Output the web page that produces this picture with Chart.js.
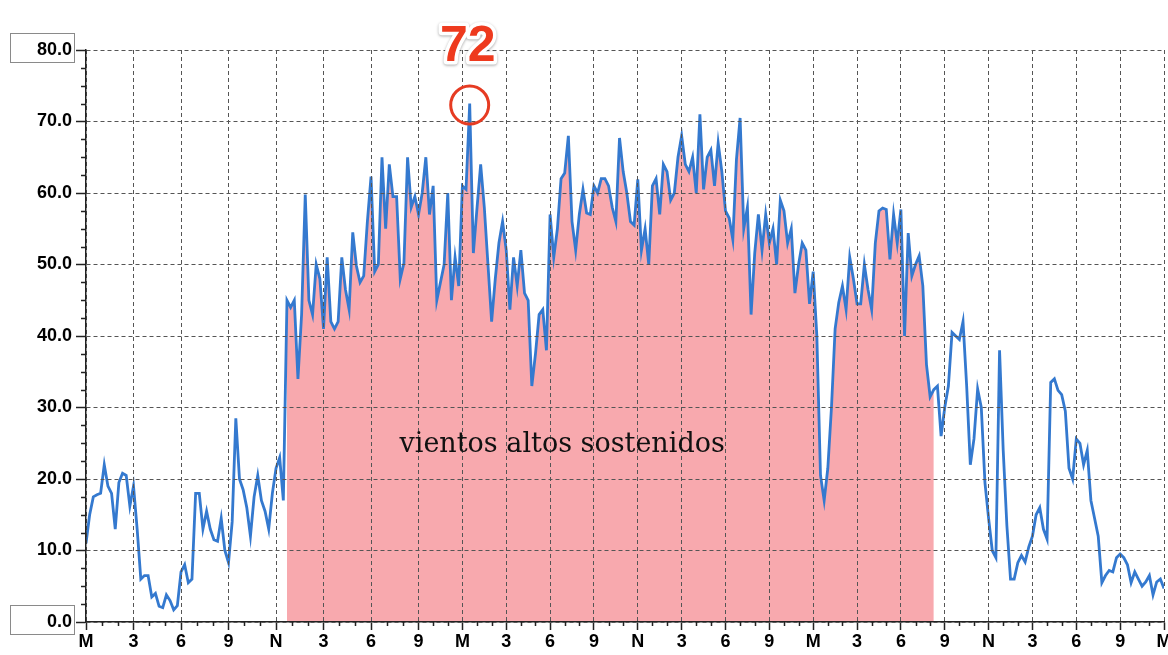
<!DOCTYPE html>
<html><head><meta charset="utf-8">
<script src="https://cdn.jsdelivr.net/npm/chart.js@4.4.0/dist/chart.umd.min.js"></script>
<style>html,body{margin:0;padding:0;background:#fff;overflow:hidden}</style>
</head><body>
<canvas id="c" width="1168" height="655"></canvas>
<script>
// Wind speed samples (one value per sample slot; day 1 has 13 samples per 3 h, later 12)
const windSpeed = [
 11,15,17.5,17.8,18,22,19,18,13,19.5,20.8,20.5,16.2,19,13,6,6.5,6.5,3.5,4,
 2.2,2,3.8,3,1.7,2.3,7,8,5.5,6,18,18,13,15.5,13,11.5,11.3,14.5,10,8.3,
 14,28.5,20,18.5,16,12,17.5,20.5,17,15.5,13,18,21.5,23,17,45,44,45,34,43,
 59.8,45,43,50,48,41,51,42,41,42,51,46.5,43.7,54.5,49.8,47.5,48.4,56,62.3,49,
 50,65,55,64,59.5,59.5,48,50.2,65,58,59.5,57,60,65,57,61,45,47.5,50,60,
 45,51,47,61,60.5,72.5,51.6,57.9,64,58,50,42,48,53,56,52,43.7,51,47,52,
 46,45,33,37.5,43,43.7,38,57,51,55,62,62.8,68,56,52,57,60.5,57.2,57,61,
 60,62,62,61,58,56,67.7,63,60,56,55.5,61.9,52,55,50,61,62,57,64,63,
 59,60,65,68,64,63,65,60,71,60.5,65,66,61,67,63,57.5,56.5,53.5,64.7,70.5,
 55,58,43,51.6,57,52,57,53,55,50,59,57.5,53,55,46,50,53,52,44.5,49,
 40,20.5,17,21.5,30,41,44.7,47,43.7,51,48,44.5,44.5,50,46.5,43.7,53,57.5,57.9,57.7,
 50.7,57,53,57.7,40,54.4,48.4,50,51.2,47,36,31.5,32.5,33,26,30,33,40.5,40,39.5,
 42,33,22,25.6,32.6,30,19.5,14.5,10,9,38,24,13.5,6,6,8.3,9.3,8.4,10.5,12,
 15,16,13,11.6,33.5,34,32.4,31.8,29.5,21.5,20,25.6,25,22,24,17,14.5,12,5.5,6.5,
 7.2,7,9,9.5,9,8,5.5,7,6,5,5.6,6.5,3.8,5.6,6,4.7
];
const tickLabels = ['M','3','6','9','N','3','6','9','M','3','6','9','N','3','6','9','M','3','6','9','N','3','6','9','M'];
const tickSamples = [0,13,26,39,52,65,78,91,103,115,127,139,151,163,175,187,199,211,223,235,247,259,271,283,295];
const highWindRange = [55, 232];
const peakSample = 105, peakValue = 72.3, peakText = '72';
const noteText = 'vientos altos sostenidos';
const notePos = [130.3, 23.8];
const yMin = 0, yMax = 80, yStep = 10;

const lineData = windSpeed.map((v, i) => ({x: i, y: v}));
const fillData = windSpeed.map((v, i) => ({x: i, y: (i >= highWindRange[0] && i <= highWindRange[1]) ? v : null}));

const tickFont = {family: "'Liberation Sans Narrow','Liberation Sans',Arial,sans-serif", size: 18, weight: 'bold'};

const decor = {
  id: 'decor',
  afterDraw(chart) {
    const {ctx, scales: {x, y}} = chart;
    ctx.save();
    // minor ticks
    ctx.strokeStyle = '#222'; ctx.lineWidth = 1.5;
    ctx.beginPath();
    for (let i = 0; i < tickSamples.length - 1; i++) {
      const a = x.getPixelForValue(tickSamples[i]), b = x.getPixelForValue(tickSamples[i + 1]);
      for (let j = 1; j < 3; j++) {
        const px = Math.round(a + (b - a) * j / 3) + 0.5;
        ctx.moveTo(px, y.bottom); ctx.lineTo(px, y.bottom + 4);
      }
    }
    for (let v = yMin + 2.5; v < yMax; v += 2.5) {
      if (v % 10 === 0) continue;
      const py = Math.round(y.getPixelForValue(v)) + 0.5;
      ctx.moveTo(x.left - 5, py); ctx.lineTo(x.left, py);
    }
    ctx.stroke();
    // boxes around min / max labels
    ctx.strokeStyle = '#8a8a8a'; ctx.lineWidth = 1;
    [yMax, yMin].forEach(v => {
      const py = Math.round(y.getPixelForValue(v));
      ctx.strokeRect(10.5, py - 16.5, 64, 29);
    });
    // note text
    ctx.fillStyle = '#111';
    ctx.font = "27px 'DejaVu Serif','Liberation Serif',serif";
    ctx.textAlign = 'center'; ctx.textBaseline = 'alphabetic';
    ctx.fillText(noteText, x.getPixelForValue(notePos[0]), y.getPixelForValue(notePos[1]));
    // peak circle
    const cx = x.getPixelForValue(peakSample), cy = y.getPixelForValue(peakValue);
    ctx.strokeStyle = '#e63b22'; ctx.lineWidth = 3;
    ctx.beginPath(); ctx.arc(cx, cy, 19, 0, Math.PI * 2); ctx.stroke();
    // peak label
    ctx.font = "bold 50px 'Liberation Sans',Arial,sans-serif";
    ctx.textAlign = 'center'; ctx.textBaseline = 'alphabetic';
    ctx.lineJoin = 'round';
    ctx.shadowColor = 'rgba(0,0,0,0.35)'; ctx.shadowBlur = 3; ctx.shadowOffsetY = 1;
    ctx.strokeStyle = '#ffffff'; ctx.lineWidth = 7;
    ctx.strokeText(peakText, cx - 2, cy - 44);
    ctx.shadowColor = 'transparent';
    ctx.fillStyle = '#ee3a1e';
    ctx.fillText(peakText, cx - 2, cy - 44);
    ctx.restore();
  }
};

new Chart(document.getElementById('c'), {
  type: 'line',
  data: {
    datasets: [
      {data: lineData, borderColor: '#3479cf', borderWidth: 2.8, pointRadius: 0, tension: 0, fill: false},
      {data: fillData, borderWidth: 0, borderColor: 'rgba(0,0,0,0)', backgroundColor: '#f8a9ae', pointRadius: 0, tension: 0, fill: 'origin', spanGaps: false}
    ]
  },
  options: {
    responsive: false, animation: false, devicePixelRatio: 1,
    layout: {padding: {top: 50, right: 4, left: 0, bottom: 0}},
    plugins: {legend: {display: false}, tooltip: {enabled: false}},
    scales: {
      x: {
        type: 'linear', min: 0, max: windSpeed.length - 1,
        afterBuildTicks(s) { s.ticks = tickSamples.map(v => ({value: v})); },
        afterFit(s) { s.height = 33; s.paddingLeft = 0; s.paddingRight = 0; },
        ticks: {autoSkip: false, maxRotation: 0, padding: 1, color: '#000', font: tickFont,
                callback: (v, i) => tickLabels[i]},
        grid: {z: 1, color: '#555', lineWidth: 1, tickLength: 8, tickColor: '#222', tickWidth: 1.5},
        border: {z: 1, display: true, color: '#222', width: 1.5, dash: [4, 3]}
      },
      y: {
        min: yMin, max: yMax,
        afterFit(s) { s.width = 86; },
        ticks: {stepSize: yStep, padding: 4, color: '#000', font: tickFont, callback: v => v.toFixed(1)},
        grid: {z: 1, color: '#555', lineWidth: 1, tickLength: 10, tickColor: '#222', tickWidth: 1.5},
        border: {z: 1, display: true, color: '#222', width: 1.5, dash: [4, 3]}
      }
    }
  },
  plugins: [decor]
});
</script>
</body></html>
